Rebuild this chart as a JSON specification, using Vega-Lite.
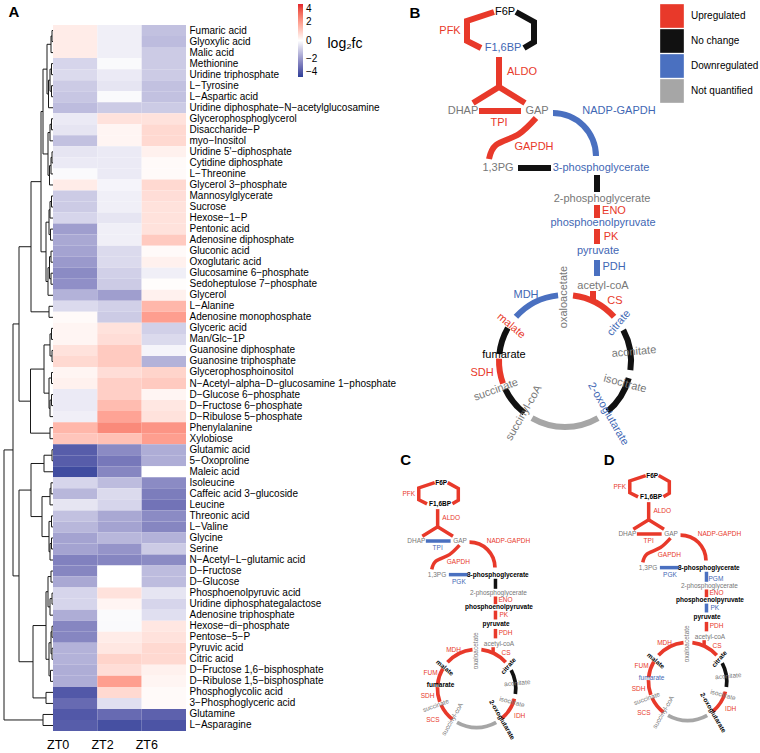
{
"$schema": "https://vega.github.io/schema/vega-lite/v6.json",
"padding": {"left": 3, "top": 0, "right": 0, "bottom": 0},
"background": "white",
"spacing": 195,
"bounds": "flush",
"config": {"view": {"stroke": null}, "font": "Liberation Sans", "title": {"font": "Liberation Sans", "color": "black"}},
"datasets": {
"heat": [
{"n":"Fumaric acid","ZT0":0.4,"ZT2":-0.3,"ZT6":-1.2},
{"n":"Glyoxylic acid","ZT0":0.4,"ZT2":-0.3,"ZT6":-1.3},
{"n":"Malic acid","ZT0":0.4,"ZT2":-0.3,"ZT6":-1.0},
{"n":"Methionine","ZT0":-0.8,"ZT2":-0.1,"ZT6":-1.0},
{"n":"Uridine triphosphate","ZT0":-0.7,"ZT2":-0.4,"ZT6":-1.0},
{"n":"L−Tyrosine","ZT0":-1.0,"ZT2":-0.5,"ZT6":-1.2},
{"n":"L−Aspartic acid","ZT0":-1.1,"ZT2":-0.1,"ZT6":-1.2},
{"n":"Uridine diphosphate−N−acetylglucosamine","ZT0":-1.3,"ZT2":-1.0,"ZT6":-1.0},
{"n":"Glycerophosphoglycerol","ZT0":-0.4,"ZT2":0.6,"ZT6":0.6},
{"n":"Disaccharide−P","ZT0":-0.5,"ZT2":0.2,"ZT6":0.8},
{"n":"myo−Inositol","ZT0":-1.2,"ZT2":0.2,"ZT6":0.8},
{"n":"Uridine 5'−diphosphate","ZT0":-0.5,"ZT2":-0.4,"ZT6":0.3},
{"n":"Cytidine diphosphate","ZT0":-0.4,"ZT2":-0.4,"ZT6":0.1},
{"n":"L−Threonine","ZT0":-0.1,"ZT2":-0.4,"ZT6":0.1},
{"n":"Glycerol 3−phosphate","ZT0":0.4,"ZT2":-0.2,"ZT6":0.8},
{"n":"Mannosylglycerate","ZT0":-1.0,"ZT2":-0.3,"ZT6":0.7},
{"n":"Sucrose","ZT0":-1.0,"ZT2":-0.3,"ZT6":0.6},
{"n":"Hexose−1−P","ZT0":-0.8,"ZT2":-0.5,"ZT6":0.6},
{"n":"Pentonic acid","ZT0":-1.9,"ZT2":-0.3,"ZT6":0.6},
{"n":"Adenosine diphosphate","ZT0":-1.7,"ZT2":-0.3,"ZT6":1.1},
{"n":"Gluconic acid","ZT0":-1.8,"ZT2":-0.7,"ZT6":0.1},
{"n":"Oxoglutaric acid","ZT0":-2.0,"ZT2":-0.7,"ZT6":0.3},
{"n":"Glucosamine 6−phosphate","ZT0":-2.3,"ZT2":-0.9,"ZT6":-0.3},
{"n":"Sedoheptulose 7−phosphate","ZT0":-2.2,"ZT2":-1.0,"ZT6":0.05},
{"n":"Glycerol","ZT0":-1.5,"ZT2":-1.9,"ZT6":0.3},
{"n":"L−Alanine","ZT0":-0.7,"ZT2":-0.9,"ZT6":1.5},
{"n":"Adenosine monophosphate","ZT0":0.1,"ZT2":-1.0,"ZT6":2.0},
{"n":"Glyceric acid","ZT0":0.2,"ZT2":0.6,"ZT6":-0.9},
{"n":"Man/Glc−1P","ZT0":0.2,"ZT2":0.7,"ZT6":-0.7},
{"n":"Guanosine diphosphate","ZT0":0.6,"ZT2":1.1,"ZT6":-0.2},
{"n":"Guanosine triphosphate","ZT0":0.8,"ZT2":1.1,"ZT6":-1.5},
{"n":"Glycerophosphoinositol","ZT0":0.2,"ZT2":0.7,"ZT6":0.9},
{"n":"N−Acetyl−alpha−D−glucosamine 1−phosphate","ZT0":0.3,"ZT2":1.0,"ZT6":1.1},
{"n":"D−Glucose 6−phosphate","ZT0":-0.4,"ZT2":1.0,"ZT6":0.2},
{"n":"D−Fructose 6−phosphate","ZT0":-0.4,"ZT2":1.4,"ZT6":0.5},
{"n":"D−Ribulose 5−phosphate","ZT0":-0.3,"ZT2":1.9,"ZT6":0.6},
{"n":"Phenylalanine","ZT0":1.5,"ZT2":2.4,"ZT6":2.2},
{"n":"Xylobiose","ZT0":1.2,"ZT2":1.3,"ZT6":2.0},
{"n":"Glutamic acid","ZT0":-3.3,"ZT2":-2.3,"ZT6":-1.6},
{"n":"5−Oxoproline","ZT0":-3.3,"ZT2":-2.7,"ZT6":-1.6},
{"n":"Maleic acid","ZT0":-3.7,"ZT2":-2.4,"ZT6":0.0},
{"n":"Isoleucine","ZT0":-0.8,"ZT2":-1.3,"ZT6":-2.3},
{"n":"Caffeic acid 3−glucoside","ZT0":-1.4,"ZT2":-0.7,"ZT6":-2.6},
{"n":"Leucine","ZT0":-0.5,"ZT2":-0.8,"ZT6":-2.8},
{"n":"Threonic acid","ZT0":-1.2,"ZT2":-1.7,"ZT6":-2.3},
{"n":"L−Valine","ZT0":-1.4,"ZT2":-1.8,"ZT6":-2.4},
{"n":"Glycine","ZT0":-1.8,"ZT2":-1.4,"ZT6":-1.5},
{"n":"Serine","ZT0":-1.8,"ZT2":-2.1,"ZT6":-1.0},
{"n":"N−Acetyl−L−glutamic acid","ZT0":-2.5,"ZT2":-2.4,"ZT6":-2.3},
{"n":"D−Fructose","ZT0":-2.4,"ZT2":0.0,"ZT6":-1.3},
{"n":"D−Glucose","ZT0":-1.7,"ZT2":0.0,"ZT6":-1.3},
{"n":"Phosphoenolpyruvic acid","ZT0":-0.8,"ZT2":0.6,"ZT6":-0.5},
{"n":"Uridine diphosphategalactose","ZT0":-0.8,"ZT2":0.2,"ZT6":-0.8},
{"n":"Adenosine triphosphate","ZT0":-1.6,"ZT2":-0.1,"ZT6":-0.6},
{"n":"Hexose−di−phosphate","ZT0":-2.4,"ZT2":-0.1,"ZT6":0.5},
{"n":"Pentose−5−P","ZT0":-2.4,"ZT2":0.4,"ZT6":0.6},
{"n":"Pyruvic acid","ZT0":-1.5,"ZT2":0.5,"ZT6":0.8},
{"n":"Citric acid","ZT0":-1.5,"ZT2":0.9,"ZT6":0.8},
{"n":"D−Fructose 1,6−bisphosphate","ZT0":-1.6,"ZT2":0.7,"ZT6":0.3},
{"n":"D−Ribulose 1,5−bisphosphate","ZT0":-1.6,"ZT2":2.0,"ZT6":0.2},
{"n":"Phosphoglycolic acid","ZT0":-3.4,"ZT2":0.8,"ZT6":0.1},
{"n":"3−Phosphoglyceric acid","ZT0":-3.0,"ZT2":-0.6,"ZT6":0.1},
{"n":"Glutamine","ZT0":-3.4,"ZT2":-3.0,"ZT6":-3.2},
{"n":"L−Asparagine","ZT0":-3.3,"ZT2":-3.6,"ZT6":-3.5}
],
"tree": [
{"h":1,"ha":0,"ya":0,"hb":0,"yb":1},
{"h":2,"ha":1,"ya":0.5,"hb":0,"yb":2},
{"h":1.5,"ha":0,"ya":3,"hb":0,"yb":4},
{"h":1.5,"ha":0,"ya":5,"hb":0,"yb":6},
{"h":3,"ha":1.5,"ya":3.5,"hb":1.5,"yb":5.5},
{"h":4.5,"ha":3,"ya":4.5,"hb":0,"yb":7},
{"h":6,"ha":2,"ya":1.25,"hb":4.5,"yb":5.75},
{"h":1.5,"ha":0,"ya":8,"hb":0,"yb":9},
{"h":3,"ha":1.5,"ya":8.5,"hb":0,"yb":10},
{"h":1,"ha":0,"ya":11,"hb":0,"yb":12},
{"h":2,"ha":1,"ya":11.5,"hb":0,"yb":13},
{"h":3.5,"ha":2,"ya":12.25,"hb":0,"yb":14},
{"h":5,"ha":3,"ya":9.25,"hb":3.5,"yb":13.125},
{"h":10,"ha":6,"ya":3.5,"hb":5,"yb":11.19},
{"h":1.5,"ha":0,"ya":15,"hb":0,"yb":16},
{"h":3,"ha":1.5,"ya":15.5,"hb":0,"yb":17},
{"h":2.5,"ha":0,"ya":18,"hb":0,"yb":19},
{"h":4,"ha":3,"ya":16.25,"hb":2.5,"yb":18.5},
{"h":2,"ha":0,"ya":20,"hb":0,"yb":21},
{"h":2,"ha":0,"ya":22,"hb":0,"yb":23},
{"h":3.5,"ha":2,"ya":20.5,"hb":2,"yb":22.5},
{"h":5,"ha":3.5,"ya":21.5,"hb":0,"yb":24},
{"h":7,"ha":4,"ya":17.375,"hb":5,"yb":22.75},
{"h":12,"ha":10,"ya":7.34,"hb":7,"yb":20.06},
{"h":4,"ha":0,"ya":25,"hb":0,"yb":26},
{"h":22,"ha":12,"ya":13.7,"hb":4,"yb":25.5},
{"h":1.5,"ha":0,"ya":27,"hb":0,"yb":28},
{"h":1,"ha":0,"ya":29,"hb":0,"yb":30},
{"h":3,"ha":1.5,"ya":27.5,"hb":1,"yb":29.5},
{"h":1.5,"ha":0,"ya":31,"hb":0,"yb":32},
{"h":1.5,"ha":0,"ya":33,"hb":0,"yb":34},
{"h":3,"ha":1.5,"ya":33.5,"hb":0,"yb":35},
{"h":4,"ha":1.5,"ya":31.5,"hb":3,"yb":34.25},
{"h":9,"ha":3,"ya":28.5,"hb":4,"yb":32.875},
{"h":3,"ha":0,"ya":36,"hb":0,"yb":37},
{"h":22.5,"ha":9,"ya":30.69,"hb":3,"yb":36.5},
{"h":34,"ha":22,"ya":19.6,"hb":22.5,"yb":33.6},
{"h":1,"ha":0,"ya":38,"hb":0,"yb":39},
{"h":9,"ha":1,"ya":38.5,"hb":0,"yb":40},
{"h":2,"ha":0,"ya":41,"hb":0,"yb":42},
{"h":3,"ha":2,"ya":41.5,"hb":0,"yb":43},
{"h":1.5,"ha":0,"ya":44,"hb":0,"yb":45},
{"h":1.5,"ha":0,"ya":46,"hb":0,"yb":47},
{"h":3,"ha":1.5,"ya":46.5,"hb":0,"yb":48},
{"h":4,"ha":1.5,"ya":44.5,"hb":3,"yb":47.25},
{"h":11,"ha":3,"ya":42.25,"hb":4,"yb":45.875},
{"h":22,"ha":9,"ya":39.25,"hb":11,"yb":44.06},
{"h":2,"ha":0,"ya":49,"hb":0,"yb":50},
{"h":1,"ha":0,"ya":51,"hb":0,"yb":52},
{"h":3,"ha":1,"ya":51.5,"hb":0,"yb":53},
{"h":5,"ha":2,"ya":49.5,"hb":3,"yb":52.25},
{"h":1,"ha":0,"ya":54,"hb":0,"yb":55},
{"h":1,"ha":0,"ya":56,"hb":0,"yb":57},
{"h":2,"ha":1,"ya":54.5,"hb":1,"yb":56.5},
{"h":2.5,"ha":0,"ya":58,"hb":0,"yb":59},
{"h":4,"ha":2,"ya":55.5,"hb":2.5,"yb":58.5},
{"h":7,"ha":5,"ya":50.875,"hb":4,"yb":57},
{"h":7,"ha":0,"ya":60,"hb":0,"yb":61},
{"h":20,"ha":7,"ya":53.94,"hb":7,"yb":60.5},
{"h":34,"ha":22,"ya":41.66,"hb":20,"yb":57.22},
{"h":40,"ha":34,"ya":26.6,"hb":34,"yb":49.44},
{"h":10,"ha":0,"ya":62,"hb":0,"yb":63},
{"h":49,"ha":40,"ya":38.02,"hb":10,"yb":62.5}
],
"paths": [
{"id":"pfk","k":0,"u":113,"v":13,"B":"up","C":"up","D":"up"},
{"id":"pfk","k":1,"u":86,"v":22,"B":"up","C":"up","D":"up"},
{"id":"pfk","k":2,"u":86,"v":42,"B":"up","C":"up","D":"up"},
{"id":"pfk","k":3,"u":100,"v":49,"B":"up","C":"up","D":"up"},
{"id":"fbp","k":0,"u":135,"v":13,"B":"nc","C":"up","D":"up"},
{"id":"fbp","k":1,"u":153,"v":23,"B":"nc","C":"up","D":"up"},
{"id":"fbp","k":2,"u":153,"v":43,"B":"nc","C":"up","D":"up"},
{"id":"fbp","k":3,"u":143,"v":49,"B":"nc","C":"up","D":"up"},
{"id":"aldo1","k":0,"u":118,"v":58,"B":"up","C":"up","D":"up"},
{"id":"aldo1","k":1,"u":118,"v":89,"B":"up","C":"up","D":"up"},
{"id":"aldo2","k":0,"u":92,"v":104,"B":"up","C":"up","D":"up"},
{"id":"aldo2","k":1,"u":118,"v":88,"B":"up","C":"up","D":"up"},
{"id":"aldo2","k":2,"u":144,"v":104,"B":"up","C":"up","D":"up"},
{"id":"tpi","k":0,"u":98,"v":112,"B":"up","C":"down","D":"up"},
{"id":"tpi","k":1,"u":140,"v":112,"B":"up","C":"down","D":"up"},
{"id":"pgk","k":0,"u":137,"v":169,"B":"nc","C":"down","D":"down"},
{"id":"pgk","k":1,"u":170,"v":169,"B":"nc","C":"down","D":"down"},
{"id":"pgm","k":0,"u":216,"v":176,"B":"nc","C":"nc","D":"down"},
{"id":"pgm","k":1,"u":216,"v":193,"B":"nc","C":"nc","D":"down"},
{"id":"eno","k":0,"u":216,"v":206,"B":"up","C":"up","D":"up"},
{"id":"eno","k":1,"u":216,"v":219,"B":"up","C":"up","D":"up"},
{"id":"pk","k":0,"u":216,"v":230,"B":"up","C":"up","D":"down"},
{"id":"pk","k":1,"u":216,"v":245,"B":"up","C":"up","D":"down"},
{"id":"pdh","k":0,"u":216,"v":261,"B":"down","C":"up","D":"up"},
{"id":"pdh","k":1,"u":216,"v":277,"B":"down","C":"up","D":"up"},
{"id":"cs","k":0,"u":212,"v":292,"B":"up","C":"up","D":"up"},
{"id":"cs","k":1,"u":212,"v":301,"B":"up","C":"up","D":"up"}
],
"curves": [
{"id":"gapdh","k":0,"u":155,"v":119,"B":"up","C":"up","D":"up"},
{"id":"gapdh","k":1,"u":138,"v":135,"B":"up","C":"up","D":"up"},
{"id":"gapdh","k":2,"u":115,"v":146,"B":"up","C":"up","D":"up"},
{"id":"gapdh","k":3,"u":108,"v":160,"B":"up","C":"up","D":"up"}
],
"arcs": [
{"id":"nadp","u":172,"v":157,"t1":0,"t2":1.5708,"B":"down","C":"up","D":"up"},
{"id":"cs","u":184,"v":362,"t1":0.122,"t2":0.838,"B":"up","C":"up","D":"up"},
{"id":"aco","u":184,"v":362,"t1":1.082,"t2":1.71,"B":"nc","C":"nc","D":"nc"},
{"id":"idh","u":184,"v":362,"t1":1.833,"t2":2.443,"B":"nc","C":"up","D":"up"},
{"id":"kgdh","u":184,"v":362,"t1":2.618,"t2":3.665,"B":"nq","C":"nq","D":"nq"},
{"id":"scs","u":184,"v":362,"t1":3.805,"t2":4.276,"B":"nc","C":"up","D":"up"},
{"id":"sdh","u":184,"v":362,"t1":4.363,"t2":4.747,"B":"up","C":"up","D":"up"},
{"id":"fum","u":184,"v":362,"t1":4.817,"t2":5.236,"B":"nc","C":"up","D":"up"},
{"id":"mdh","u":184,"v":362,"t1":5.445,"t2":6.178,"B":"down","C":"up","D":"up"}
],
"labels": [
{"t":"F6P","u":124,"v":13,"r":0,"B":"nc","C":"nc","D":"nc"},
{"t":"F1,6BP","u":122,"v":49,"r":0,"B":"down","C":"nc","D":"nc"},
{"t":"DHAP","u":82,"v":112,"r":0,"B":"nq","C":"nq","D":"nq"},
{"t":"GAP","u":156,"v":112,"r":0,"B":"nq","C":"nq","D":"nq"},
{"t":"1,3PG","u":117,"v":169,"r":0,"B":"nq","C":"nq","D":"nq"},
{"t":"3-phosphoglycerate","u":220,"v":169,"r":0,"B":"down","C":"nc","D":"nc"},
{"t":"2-phosphoglycerate","u":221,"v":200,"r":0,"B":"nq","C":"nq","D":"nq"},
{"t":"phosphoenolpyruvate","u":222,"v":224,"r":0,"B":"down","C":"nc","D":"nc"},
{"t":"pyruvate","u":217,"v":252,"r":0,"B":"down","C":"nc","D":"nc"},
{"t":"acetyl-coA","u":222,"v":287,"r":0,"B":"nq","C":"nq","D":"nq"},
{"t":"oxaloacetate","u":183,"v":298,"r":270,"B":"nq","C":"nq","D":"nq"},
{"t":"citrate","u":238,"v":324,"r":310,"B":"down","C":"nc","D":"nc"},
{"t":"aconitate","u":253,"v":353,"r":355,"B":"nq","C":"nq","D":"nq"},
{"t":"isocitrate","u":244,"v":385,"r":15,"B":"nq","C":"nq","D":"nq"},
{"t":"2-oxoglutarate","u":227,"v":415,"r":60,"B":"down","C":"nc","D":"nc"},
{"t":"succinyl-coA","u":143,"v":414,"r":300,"B":"nq","C":"nq","D":"nq"},
{"t":"succinate","u":115,"v":391,"r":340,"B":"nq","C":"nq","D":"nq"},
{"t":"fumarate","u":123,"v":356,"r":0,"B":"nc","C":"nc","D":"down"},
{"t":"malate","u":130,"v":327,"r":40,"B":"up","C":"nc","D":"nc"},
{"t":"PFK","u":69,"v":32,"r":0,"B":"up","C":"up","D":"up"},
{"t":"ALDO","u":141,"v":73,"r":0,"B":"up","C":"up","D":"up"},
{"t":"TPI","u":118,"v":124,"r":0,"B":"up","C":"down","D":"up"},
{"t":"GAPDH","u":153,"v":148,"r":0,"B":"up","C":"up","D":"up"},
{"t":"NADP-GAPDH","u":238,"v":112,"r":0,"B":"down","C":"up","D":"up"},
{"t":"PGK","u":154,"v":181,"r":0,"C":"down","D":"down"},
{"t":"PGM","u":232,"v":188,"r":0,"D":"down"},
{"t":"ENO","u":233,"v":212,"r":0,"B":"up","C":"up","D":"up"},
{"t":"PK","u":230,"v":238,"r":0,"B":"up","C":"up","D":"down"},
{"t":"PDH","u":233,"v":268,"r":0,"B":"down","C":"up","D":"up"},
{"t":"CS","u":234,"v":302,"r":0,"B":"up","C":"up","D":"up"},
{"t":"MDH","u":145,"v":296,"r":0,"B":"down","C":"up","D":"up"},
{"t":"SDH","u":101,"v":374,"r":0,"B":"up","C":"up","D":"up"},
{"t":"FUM","u":106,"v":335,"r":0,"C":"up","D":"up"},
{"t":"SCS","u":110,"v":415,"r":0,"C":"up","D":"up"},
{"t":"IDH","u":257,"v":408,"r":0,"C":"up","D":"up"}
],
"letters": [
{"t":"A","p":"A","u":39,"v":-1.68},
{"t":"B","p":"B","u":34,"v":14},
{"t":"C","p":"C","u":64,"v":-25},
{"t":"D","p":"D","u":51,"v":-13}
]
},
"hconcat": [
{"width": 182, "height": 706,
 "layer": [
  {"encoding": {"x": {"field": "ha", "type": "quantitative", "scale": {"domain": [-133, 49], "reverse": true}, "axis": null},
                "y": {"field": "ya", "type": "quantitative", "scale": {"domain": [-0.5, 63.5], "reverse": true}, "axis": null}},
   "layer": [
    {"data": {"name": "tree"}, "mark": {"type": "rule", "color": "#1a1a1a", "strokeWidth": 1},
     "encoding": {"x2": {"field": "h"}}},
    {"data": {"name": "tree"}, "mark": {"type": "rule", "color": "#1a1a1a", "strokeWidth": 1},
     "encoding": {"x": {"field": "hb", "type": "quantitative"}, "x2": {"field": "h"}, "y": {"field": "yb", "type": "quantitative"}}},
    {"data": {"name": "tree"}, "mark": {"type": "rule", "color": "#1a1a1a", "strokeWidth": 1},
     "encoding": {"x": {"field": "h", "type": "quantitative"}, "y2": {"field": "yb"}}},
    {"data": {"name": "letters"}, "transform": [{"filter": "datum.p == 'A'"}],
     "mark": {"type": "text", "fontSize": 15, "fontWeight": "bold", "align": "center", "baseline": "middle", "font": "Liberation Sans", "color": "#000000"},
     "encoding": {"x": {"field": "u", "type": "quantitative"}, "y": {"field": "v", "type": "quantitative"}, "text": {"field": "t"}}}
   ]
  },
  {"data": {"name": "heat"},
   "transform": [{"fold": ["ZT0", "ZT2", "ZT6"], "as": ["t", "val"]}],
   "mark": {"type": "rect"},
   "encoding": {
    "x": {"field": "t", "type": "nominal", "sort": ["ZT0", "ZT2", "ZT6"], "scale": {"paddingInner": 0, "paddingOuter": 0.5526, "align": 1},
          "axis": {"title": null, "orient": "bottom", "labelAngle": 0, "ticks": false, "domain": false, "labelFontSize": 12.5, "labelPadding": 7, "labelOffset": -17, "labelColor": "black", "labelFont": "Liberation Sans"}},
    "y": {"field": "n", "type": "nominal", "sort": null, "scale": {"paddingInner": 0, "paddingOuter": 0},
          "axis": {"title": null, "orient": "right", "ticks": false, "domain": false, "labelFontSize": 10, "labelPadding": 3, "labelColor": "black", "labelLimit": 0, "labelFont": "Liberation Sans"}},
    "color": {"field": "val", "type": "quantitative",
              "scale": {"domain": [-4, 0, 4], "range": ["#2c3f98", "#ffffff", "#e3232c"], "interpolate": "lab"},
              "legend": {"orient": "none", "legendX": 294, "legendY": -21, "direction": "vertical", "gradientLength": 73, "gradientThickness": 5,
                         "values": [-4, -2, 0, 2, 4], "labelFontSize": 10, "labelOffset": 3, "labelColor": "black", "labelOverlap": false,
                         "title": "log₂fc", "titleOrient": "right", "titleFontSize": 14, "titleFontWeight": "normal",
                         "titlePadding": 8, "titleAnchor": "middle", "titleBaseline": "middle", "titleColor": "black", "gradientStrokeWidth": 0,
                         "encode": {"title": {"update": {"angle": {"value": 0}, "dx": {"value": 20}, "dy": {"value": 3}}}}}}
   }
  }
 ],
 "resolve": {"scale": {"x": "independent", "y": "independent"}}
},
{"width": 380, "height": 727,
 "layer": [
  {"encoding": {
    "x": {"field": "u", "type": "quantitative", "scale": {"domain": [0, 380]}, "axis": null},
    "y": {"field": "v", "type": "quantitative", "scale": {"domain": [26, 753], "reverse": true}, "axis": null}
   },
   "layer": [
    {"data": {"name": "paths"}, "transform": [{"filter": "isValid(datum.B)"}],
     "mark": {"type": "line", "strokeWidth": 6, "strokeCap": "butt", "strokeJoin": "miter"},
     "encoding": {"detail": {"field": "id"}, "order": {"field": "k", "type": "quantitative"},
                  "stroke": {"field": "B", "type": "nominal", "scale": {"domain": ["up", "nc", "down", "nq"], "range": ["#e8392a", "#111111", "#4a70c0", "#a6a6a6"]}, "legend": null}}},
    {"data": {"name": "curves"},
     "mark": {"type": "line", "strokeWidth": 6, "strokeCap": "butt", "interpolate": "cardinal"},
     "encoding": {"detail": {"field": "id"}, "order": {"field": "k", "type": "quantitative"}, "stroke": {"field": "B", "type": "nominal", "legend": null}}},
    {"data": {"name": "arcs"}, "transform": [{"filter": "datum.id != 'nadp'"}],
     "mark": {"type": "arc", "radius": 69, "radius2": 63},
     "encoding": {"theta": {"field": "t1", "type": "quantitative", "scale": null, "stack": null}, "theta2": {"field": "t2"},
                  "fill": {"field": "B", "type": "nominal", "scale": {"domain": ["up", "nc", "down", "nq"], "range": ["#e8392a", "#111111", "#4a70c0", "#a6a6a6"]},
                           "legend": {"orient": "none", "legendX": 279, "legendY": -21, "title": null, "symbolType": "square", "symbolSize": 560, "symbolStrokeWidth": 0,
                                      "labelFontSize": 10, "labelOffset": 7, "rowPadding": 1, "labelColor": "black", "labelFont": "Liberation Sans",
                                      "labelExpr": "datum.label == 'up' ? 'Upregulated' : datum.label == 'nc' ? 'No change' : datum.label == 'down' ? 'Downregulated' : 'Not quantified'"}}}},
    {"data": {"name": "arcs"}, "transform": [{"filter": "datum.id == 'nadp'"}],
     "mark": {"type": "arc", "radius": 46, "radius2": 40},
     "encoding": {"theta": {"field": "t1", "type": "quantitative", "scale": null, "stack": null}, "theta2": {"field": "t2"},
                  "fill": {"field": "B", "type": "nominal"}}},
    {"data": {"name": "labels"}, "transform": [{"filter": "isValid(datum.B)"}],
     "mark": {"type": "text", "fontSize": 11, "align": "center", "baseline": "middle", "font": "Liberation Sans"},
     "encoding": {"text": {"field": "t"}, "angle": {"field": "r", "type": "quantitative", "scale": null},
                  "color": {"field": "B", "type": "nominal", "scale": {"domain": ["up", "nc", "down", "nq"], "range": ["#e8392a", "#000000", "#3f67b4", "#777777"]}, "legend": null}}},
    {"data": {"name": "letters"}, "transform": [{"filter": "datum.p == 'B'"}],
     "mark": {"type": "text", "fontSize": 15, "fontWeight": "bold", "align": "center", "baseline": "middle", "font": "Liberation Sans", "color": "#000000"},
     "encoding": {"text": {"field": "t"}}}
   ]
  },
  {"encoding": {
    "x": {"field": "u", "type": "quantitative", "scale": {"domain": [22, 666]}, "axis": null},
    "y": {"field": "v", "type": "quantitative", "scale": {"domain": [-762.6, 469.6], "reverse": true}, "axis": null}
   },
   "layer": [
    {"data": {"name": "paths"}, "transform": [{"filter": "isValid(datum.C)"}],
     "mark": {"type": "line", "strokeWidth": 3.5, "strokeCap": "butt", "strokeJoin": "miter"},
     "encoding": {"detail": {"field": "id"}, "order": {"field": "k", "type": "quantitative"},
                  "stroke": {"field": "C", "type": "nominal", "legend": null}}},
    {"data": {"name": "curves"},
     "mark": {"type": "line", "strokeWidth": 3.5, "strokeCap": "butt", "interpolate": "cardinal"},
     "encoding": {"detail": {"field": "id"}, "order": {"field": "k", "type": "quantitative"}, "stroke": {"field": "C", "type": "nominal", "legend": null}}},
    {"data": {"name": "arcs"}, "transform": [{"filter": "datum.id != 'nadp'"}],
     "mark": {"type": "arc", "radius": 41, "radius2": 37.3},
     "encoding": {"theta": {"field": "t1", "type": "quantitative", "scale": null, "stack": null}, "theta2": {"field": "t2"},
                  "fill": {"field": "C", "type": "nominal", "scale": {"domain": ["up", "nc", "down", "nq"], "range": ["#e8392a", "#111111", "#4a70c0", "#a6a6a6"]}, "legend": null}}},
    {"data": {"name": "arcs"}, "transform": [{"filter": "datum.id == 'nadp'"}],
     "mark": {"type": "arc", "radius": 27.3, "radius2": 23.6},
     "encoding": {"theta": {"field": "t1", "type": "quantitative", "scale": null, "stack": null}, "theta2": {"field": "t2"},
                  "fill": {"field": "C", "type": "nominal", "legend": null}}},
    {"data": {"name": "labels"}, "transform": [{"filter": "isValid(datum.C) && datum.C != 'nc'"}],
     "mark": {"type": "text", "fontSize": 6.5, "align": "center", "baseline": "middle", "font": "Liberation Sans"},
     "encoding": {"text": {"field": "t"}, "angle": {"field": "r", "type": "quantitative", "scale": null},
                  "color": {"field": "C", "type": "nominal", "legend": null}}},
    {"data": {"name": "labels"}, "transform": [{"filter": "datum.C == 'nc'"}],
     "mark": {"type": "text", "fontSize": 6.5, "fontWeight": "bold", "align": "center", "baseline": "middle", "font": "Liberation Sans", "color": "#000000"},
     "encoding": {"text": {"field": "t"}, "angle": {"field": "r", "type": "quantitative", "scale": null}}},
    {"data": {"name": "letters"}, "transform": [{"filter": "datum.p == 'C'"}],
     "mark": {"type": "text", "fontSize": 15, "fontWeight": "bold", "align": "center", "baseline": "middle", "font": "Liberation Sans", "color": "#000000"},
     "encoding": {"text": {"field": "t"}}}
   ]
  },
  {"encoding": {
    "x": {"field": "u", "type": "quantitative", "scale": {"domain": [-335.7, 308.4]}, "axis": null},
    "y": {"field": "v", "type": "quantitative", "scale": {"domain": [-750.7, 481.5], "reverse": true}, "axis": null}
   },
   "layer": [
    {"data": {"name": "paths"}, "transform": [{"filter": "isValid(datum.D)"}],
     "mark": {"type": "line", "strokeWidth": 3.5, "strokeCap": "butt", "strokeJoin": "miter"},
     "encoding": {"detail": {"field": "id"}, "order": {"field": "k", "type": "quantitative"},
                  "stroke": {"field": "D", "type": "nominal", "legend": null}}},
    {"data": {"name": "curves"},
     "mark": {"type": "line", "strokeWidth": 3.5, "strokeCap": "butt", "interpolate": "cardinal"},
     "encoding": {"detail": {"field": "id"}, "order": {"field": "k", "type": "quantitative"}, "stroke": {"field": "D", "type": "nominal", "legend": null}}},
    {"data": {"name": "arcs"}, "transform": [{"filter": "datum.id != 'nadp'"}],
     "mark": {"type": "arc", "radius": 41, "radius2": 37.3},
     "encoding": {"theta": {"field": "t1", "type": "quantitative", "scale": null, "stack": null}, "theta2": {"field": "t2"},
                  "fill": {"field": "D", "type": "nominal", "scale": {"domain": ["up", "nc", "down", "nq"], "range": ["#e8392a", "#111111", "#4a70c0", "#a6a6a6"]}, "legend": null}}},
    {"data": {"name": "arcs"}, "transform": [{"filter": "datum.id == 'nadp'"}],
     "mark": {"type": "arc", "radius": 27.3, "radius2": 23.6},
     "encoding": {"theta": {"field": "t1", "type": "quantitative", "scale": null, "stack": null}, "theta2": {"field": "t2"},
                  "fill": {"field": "D", "type": "nominal", "legend": null}}},
    {"data": {"name": "labels"}, "transform": [{"filter": "isValid(datum.D) && datum.D != 'nc'"}],
     "mark": {"type": "text", "fontSize": 6.5, "align": "center", "baseline": "middle", "font": "Liberation Sans"},
     "encoding": {"text": {"field": "t"}, "angle": {"field": "r", "type": "quantitative", "scale": null},
                  "color": {"field": "D", "type": "nominal", "legend": null}}},
    {"data": {"name": "labels"}, "transform": [{"filter": "datum.D == 'nc'"}],
     "mark": {"type": "text", "fontSize": 6.5, "fontWeight": "bold", "align": "center", "baseline": "middle", "font": "Liberation Sans", "color": "#000000"},
     "encoding": {"text": {"field": "t"}, "angle": {"field": "r", "type": "quantitative", "scale": null}}},
    {"data": {"name": "letters"}, "transform": [{"filter": "datum.p == 'D'"}],
     "mark": {"type": "text", "fontSize": 15, "fontWeight": "bold", "align": "center", "baseline": "middle", "font": "Liberation Sans", "color": "#000000"},
     "encoding": {"text": {"field": "t"}}}
   ]
  }
 ],
 "resolve": {"scale": {"x": "independent", "y": "independent", "fill": "independent"}, "legend": {"fill": "independent"}}
}
]
}
